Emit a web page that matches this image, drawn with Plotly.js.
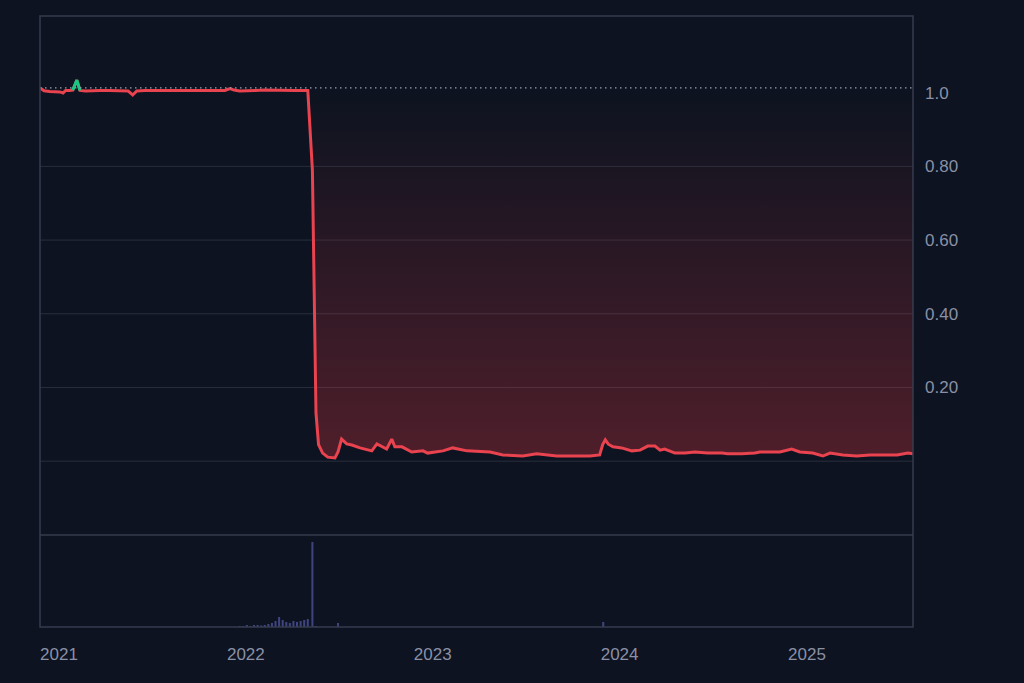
<!DOCTYPE html>
<html>
<head>
<meta charset="utf-8">
<script src="https://cdn.plot.ly/plotly-3.0.1.min.js"></script>
<style>
  html, body { margin: 0; padding: 0; background: #0d1320; }
  #chart { width: 1024px; height: 683px; }
</style>
</head>
<body>
<div id="chart"></div>
<script>
// ---- Price series ----
const priceDates = [
  '2020-11-25','2020-12-03','2020-12-14','2020-12-26','2021-01-03','2021-01-09','2021-01-14','2021-01-22',
  '2021-01-28','2021-02-05','2021-02-11','2021-02-22','2021-03-06','2021-03-22','2021-04-10','2021-04-30',
  '2021-05-16','2021-05-25','2021-06-02','2021-06-18','2021-07-07','2021-07-27','2021-08-15','2021-09-04',
  '2021-09-24','2021-10-13','2021-11-01','2021-11-21','2021-12-01','2021-12-09','2021-12-20','2022-01-05',
  '2022-01-19','2022-02-07','2022-02-27','2022-03-18','2022-04-07','2022-04-26','2022-05-02','2022-05-11',
  '2022-05-18','2022-05-23','2022-05-31','2022-06-10','2022-06-24','2022-06-30','2022-07-07','2022-07-17',
  '2022-07-27','2022-08-12','2022-08-27','2022-09-04','2022-09-14','2022-09-24','2022-10-03','2022-10-13',
  '2022-10-19','2022-11-02','2022-11-21','2022-12-13','2022-12-22','2023-01-21','2023-02-09','2023-03-09',
  '2023-04-23','2023-05-18','2023-06-26','2023-07-23','2023-08-31','2023-09-30','2023-11-04','2023-11-23',
  '2023-11-29','2023-12-04','2023-12-10','2023-12-19','2024-01-05','2024-01-25','2024-02-10','2024-02-25',
  '2024-03-10','2024-03-20','2024-03-29','2024-04-18','2024-05-08','2024-05-27','2024-06-21','2024-07-19',
  '2024-07-30','2024-08-27','2024-09-21','2024-10-01','2024-10-21','2024-11-09','2024-12-02','2024-12-18',
  '2025-01-12','2025-02-01','2025-02-15','2025-03-12','2025-04-08','2025-05-04','2025-05-29','2025-06-26',
  '2025-07-17','2025-07-27'
];
const priceValues = [
  1.0127,1.005,1.003,1.002,1.0019,0.999,1.006,1.006,
  1.007,1.034,1.006,1.0046,1.006,1.006,1.006,1.0046,
  1.0046,0.9937,1.0046,1.006,1.006,1.007,1.006,1.006,
  1.007,1.006,1.007,1.006,1.011,1.007,1.0046,1.0046,
  1.006,1.007,1.006,1.007,1.006,1.006,1.006,0.79,
  0.131,0.045,0.022,0.011,0.0087,0.025,0.060,0.047,
  0.044,0.036,0.030,0.028,0.047,0.039,0.033,0.060,
  0.039,0.039,0.025,0.028,0.022,0.028,0.036,0.028,
  0.025,0.017,0.014,0.020,0.014,0.014,0.014,0.017,
  0.045,0.058,0.046,0.039,0.036,0.028,0.030,0.041,
  0.041,0.030,0.033,0.022,0.022,0.025,0.022,0.022,
  0.020,0.020,0.022,0.025,0.025,0.025,0.033,0.025,
  0.022,0.014,0.022,0.017,0.014,0.017,0.017,0.017,
  0.022,0.020
];

// ---- Volume series (arbitrary units) ----
const volumeDates = [
  '2021-12-20','2021-12-27','2022-01-03','2022-01-10','2022-01-17','2022-01-24','2022-01-31','2022-02-07',
  '2022-02-14','2022-02-21','2022-02-28','2022-03-07','2022-03-14','2022-03-21','2022-03-28','2022-04-04',
  '2022-04-11','2022-04-18','2022-04-25','2022-05-02','2022-05-11','2022-05-18','2022-06-30','2023-11-30'
];
const volumeValues = [
  10,10,20,10,20,20,15,20,
  30,40,60,100,70,50,40,60,
  50,60,70,80,850,10,40,50
];

// ---- Axis ticks ----
const yTickVals = [0.2, 0.4, 0.6, 0.8, 1.0];
const yTickText = ['0.20', '0.40', '0.60', '0.80', '1.0'];
const gridVals = [0, 0.2, 0.4, 0.6, 0.8];
const xTickVals = ['2021-01-01','2022-01-01','2023-01-01','2024-01-01','2025-01-01'];
const xTickText = ['2021','2022','2023','2024','2025'];

const baseline = priceValues[0];
const RED = '#e8434f';
const GREEN = '#16c784';
const TXT = '#8a90a6';
const volDomainTop = 92 / 611;

// green segment where price is above the baseline
const greenValues = priceValues.map((v, i) => {
  const prev = i > 0 ? priceValues[i - 1] : -1;
  const next = i < priceValues.length - 1 ? priceValues[i + 1] : -1;
  return (v > baseline || prev > baseline || next > baseline) ? v : null;
});

const traces = [
  {
    x: priceDates, y: priceDates.map(() => baseline), type: 'scatter', mode: 'lines',
    line: {width: 0, color: 'rgba(0,0,0,0)'}, hoverinfo: 'skip', showlegend: false, xaxis: 'x', yaxis: 'y'
  },
  {
    x: priceDates, y: priceValues, type: 'scatter', mode: 'lines',
    line: {width: 3, color: RED},
    fill: 'tonexty',
    fillgradient: {
      type: 'vertical',
      start: 0, stop: 1.0,
      colorscale: [[0, 'rgba(234,57,67,0.30)'], [1, 'rgba(234,57,67,0.0)']]
    },
    showlegend: false, xaxis: 'x', yaxis: 'y'
  },
  {
    x: priceDates, y: greenValues, type: 'scatter', mode: 'lines',
    line: {width: 3, color: GREEN}, connectgaps: false,
    showlegend: false, xaxis: 'x', yaxis: 'y'
  },
  {
    x: volumeDates, y: volumeValues, type: 'bar',
    width: 4 * 86400000,
    marker: {color: 'rgba(96,102,190,0.6)', line: {width: 0}},
    showlegend: false, xaxis: 'x', yaxis: 'y2'
  }
];

const shapes = gridVals.map(v => ({
  type: 'line', xref: 'paper', x0: 0, x1: 1, yref: 'y', y0: v, y1: v,
  line: {color: '#282e3d', width: 1}, layer: 'below'
}));
shapes.push({
  type: 'line', xref: 'paper', x0: 0, x1: 1, yref: 'y', y0: baseline, y1: baseline,
  line: {color: '#9aa0b0', width: 1.2, dash: '1.5px,3.5px'}, layer: 'above'
});
shapes.push({
  type: 'line', xref: 'paper', x0: 0, x1: 1, yref: 'paper', y0: volDomainTop, y1: volDomainTop,
  line: {color: '#363c4d', width: 1.5}, layer: 'above'
});
shapes.push({
  type: 'rect', xref: 'paper', x0: 0, x1: 1, yref: 'paper', y0: 0, y1: 1,
  line: {color: '#363c4d', width: 1.5}, fillcolor: 'rgba(0,0,0,0)', layer: 'above'
});

const layout = {
  width: 1024, height: 683,
  margin: {l: 40, r: 111, t: 16, b: 56},
  paper_bgcolor: '#0d1320', plot_bgcolor: '#0d1320',
  font: {family: '"Liberation Sans", Arial, sans-serif', size: 17, color: TXT},
  showlegend: false,
  hovermode: false,
  xaxis: {
    type: 'date', anchor: 'y2',
    range: ['2020-11-25', '2025-07-27'],
    tickvals: xTickVals, ticktext: xTickText,
    showgrid: false, zeroline: false, showline: false, ticks: '',
    ticklabelstandoff: 15,
    tickfont: {size: 17, color: TXT}
  },
  yaxis: {
    domain: [volDomainTop, 1], range: [-0.2003, 1.208],
    side: 'right', anchor: 'x',
    tickvals: yTickVals, ticktext: yTickText,
    showgrid: false, zeroline: false, showline: false, ticks: '',
    ticklabelstandoff: 11,
    tickfont: {size: 17, color: TXT}
  },
  yaxis2: {
    domain: [0, volDomainTop], range: [0, 920],
    side: 'right', anchor: 'x',
    showticklabels: false, showgrid: false, zeroline: false, showline: false, ticks: ''
  },
  shapes: shapes
};

Plotly.newPlot('chart', traces, layout, {displayModeBar: false, staticPlot: true});
</script>
</body>
</html>
